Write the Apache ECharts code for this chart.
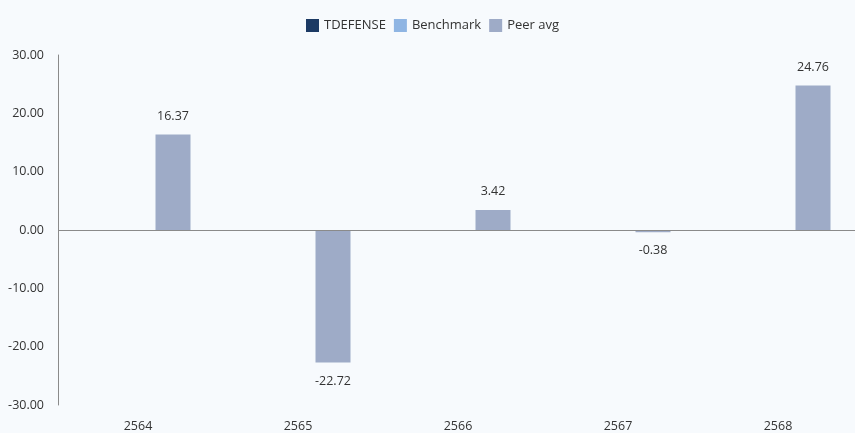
<!DOCTYPE html>
<html>
<head>
<meta charset="utf-8">
<script src="https://cdn.jsdelivr.net/npm/echarts@6/dist/echarts.min.js"></script>
<style>
html,body{margin:0;padding:0;background:#f7fafd;overflow:hidden;}
#c{width:858px;height:433px;}
</style>
</head>
<body>
<div id="c"></div>
<script>
const categories = ['2564', '2565', '2566', '2567', '2568'];
const seriesNames = ['TDEFENSE', 'Benchmark', 'Peer avg'];
const tdefense = [null, null, null, null, null];
const benchmark = [null, null, null, null, null];
const peerAvg = [16.37, -22.72, 3.42, -0.38, 24.76];
const yMin = -30, yMax = 30, yInterval = 10;

const colors = ['#1c3a64', '#8fb5e3', '#9eabc7'];
const font = 'Open Sans, Noto Sans, sans-serif';

const chart = echarts.init(document.getElementById('c'), null, {renderer: 'canvas'});
const labelCfg = {
  show: true,
  fontFamily: font,
  fontSize: 12.5,
  color: '#333',
  distance: 12,
  formatter: p => p.value == null ? '' : Number(p.value).toFixed(2),
  position: 'top'
};
function mkData(arr) {
  return arr.map(v => v == null ? null : {
    value: v,
    label: { position: v < 0 ? 'bottom' : 'top' }
  });
}
chart.setOption({
  backgroundColor: '#f7fafd',
  animation: false,
  color: colors,
  legend: {
    top: 14,
    left: 301,
    icon: 'rect',
    itemWidth: 13,
    itemHeight: 13,
    itemGap: 8,
    textStyle: { fontFamily: font, fontSize: 13, color: '#333' },
    data: seriesNames
  },
  grid: { left: 58, right: 0, top: 55, bottom: 28, containLabel: false },
  xAxis: {
    type: 'category',
    data: categories,
    axisLine: { show: false },
    axisTick: { show: false },
    axisLabel: { fontFamily: font, fontSize: 12.5, color: '#333', margin: 15 }
  },
  yAxis: {
    type: 'value',
    min: yMin, max: yMax, interval: yInterval,
    axisLine: { show: true, lineStyle: { color: '#8a8a8a', width: 1 } },
    axisTick: { show: false },
    splitLine: { show: false },
    axisLabel: {
      fontFamily: font, fontSize: 12.5, color: '#333', margin: 14,
      formatter: v => v.toFixed(2)
    }
  },
  series: [
    { name: seriesNames[0], type: 'bar', data: mkData(tdefense), barWidth: 35, barGap: '0%', label: labelCfg },
    { name: seriesNames[1], type: 'bar', data: mkData(benchmark), barWidth: 35, barGap: '0%', label: labelCfg },
    { name: seriesNames[2], type: 'bar', data: mkData(peerAvg), barWidth: 35, barGap: '0%', label: labelCfg,
      markLine: {
        silent: true,
        symbol: ['none', 'none'],
        label: { show: false },
        lineStyle: { color: '#8a8a8a', type: 'solid', width: 1 },
        data: [{ yAxis: 0 }]
      }
    }
  ]
});
</script>
</body>
</html>
